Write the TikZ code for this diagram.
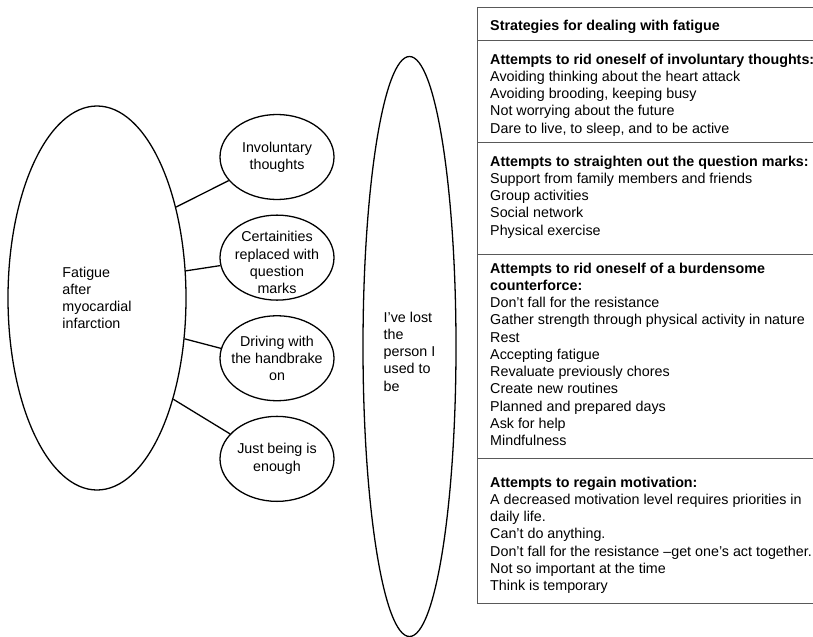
\documentclass[tikz,border=0pt]{standalone}
\usepackage{fontspec}
\setmainfont{Liberation Sans}
\usetikzlibrary{shapes.geometric,positioning}
\definecolor{rulegray}{gray}{0.35}
\tikzset{
bubble/.style={draw, ellipse, line width=1.1pt, inner sep=0pt},
leaf/.style={bubble, minimum width=3.42cm, minimum height=2.55cm},
txt/.style={font=\fontsize{12.2pt}{14.7pt}\selectfont, inner sep=0pt},
cell/.style={txt, anchor=north west, align=left},
rule/.style={draw=rulegray, line width=0.7pt}
}

\begin{document}
\begin{tikzpicture}
\useasboundingbox (0cm,0cm) rectangle (24.39cm,-19.11cm);
\node[bubble, minimum width=5.34cm, minimum height=11.52cm] (F) at (2.91cm,-8.94cm) {};
\node[txt, align=left] (Ft) at (F) {Fatigue\\after\\myocardial\\infarction};
\node[leaf] (S1) at (8.31cm,-4.71cm) {};
\node[leaf, below=0.43cm of S1] (S2) {};
\node[leaf, below=0.43cm of S2] (S3) {};
\node[leaf, below=0.43cm of S3] (S4) {};
\node[txt, align=center] (S1t) at (S1) {Involuntary\\thoughts};
\node[txt, align=center, yshift=-0.15cm] (S2t) at (S2) {Certainities\\replaced with\\question\\marks};
\node[txt, align=center] (S3t) at (S3) {Driving with\\the handbrake\\on};
\node[txt, align=center] (S4t) at (S4) {Just being is\\enough};
\foreach \i/\a/\b in {1/49/206,2/17/188,3/335/170,4/307/152}{
\draw[line width=1.1pt] (F.\a) -- (S\i.\b);
}
\node[bubble, minimum width=2.79cm, minimum height=17.4cm] (L) at (12.285cm,-10.395cm) {};
\node[txt, align=left, yshift=-0.15cm] (Lt) at (L) {I’ve lost\\the\\person I\\used to\\be};
\draw[rule] (14.31cm,-0.21cm) -- (14.31cm,-18.09cm);
\foreach \y in {-0.21,-1.2,-4.28,-7.62,-13.74,-18.09}{
\draw[rule] (14.31cm,\y cm) -- (24.39cm,\y cm);
}
\node[cell] (H) at (14.7cm,-0.59cm) {\textbf{Strategies for dealing with fatigue}};
\node[cell] (R1) at (14.7cm,-1.61cm) {\textbf{Attempts to rid oneself of involuntary thoughts:}\\Avoiding thinking about the heart attack\\Avoiding brooding, keeping busy\\Not worrying about the future\\Dare to live, to sleep, and to be active};
\node[cell] (R2) at (14.7cm,-4.67cm) {\textbf{Attempts to straighten out the question marks:}\\Support from family members and friends\\Group activities\\Social network\\Physical exercise};
\node[cell] (R3) at (14.7cm,-7.88cm) {\textbf{Attempts to rid oneself of a burdensome}\\\textbf{counterforce:}\\Don’t fall for the resistance\\Gather strength through physical activity in nature\\Rest\\Accepting fatigue\\Revaluate previously chores\\Create new routines\\Planned and prepared days\\Ask for help\\Mindfulness};
\node[cell] (R4) at (14.7cm,-14.3cm) {\textbf{Attempts to regain motivation:}\\A decreased motivation level requires priorities in\\daily life.\\Can’t do anything.\\Don’t fall for the resistance –get one’s act together.\\Not so important at the time\\Think is temporary};
\end{tikzpicture}
\end{document}
